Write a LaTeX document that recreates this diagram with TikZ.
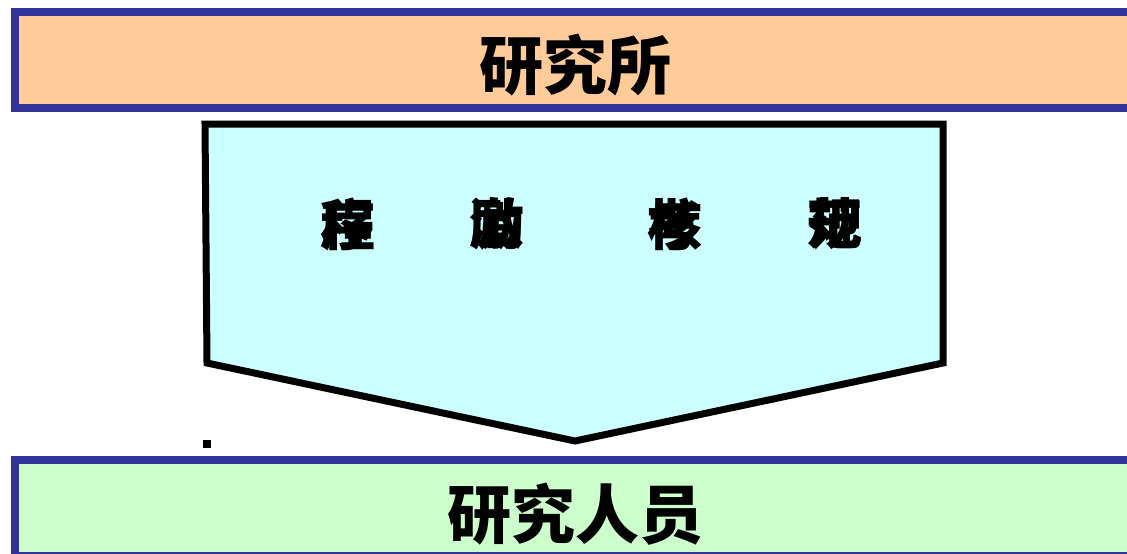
\documentclass[tikz,border=0pt]{standalone}
\usepackage{fontspec}
\newfontfamily\cjk{Noto Sans CJK SC}
\usetikzlibrary{positioning}
\definecolor{peach}{HTML}{FFCC99}
\definecolor{frameblue}{HTML}{333399}
\definecolor{lightcyan}{HTML}{CCFFFF}
\definecolor{lightgreen}{HTML}{CCFFCC}
\newcommand{\overlap}[2]{\rlap{#1}#2}

\begin{document}
\begin{tikzpicture}[x=1pt, y=-1pt,
    band/.style={draw=frameblue, line width=8pt, inner sep=0pt,
                 minimum width=1120pt, minimum height=96pt},
    title/.style={font=\cjk\bfseries\fontsize{64}{64}\selectfont, inner sep=0pt},
    word/.style={font=\cjk\bfseries\fontsize{55}{55}\selectfont, inner sep=0pt}]
    \useasboundingbox (0,0) rectangle (1127,554);

    \node[band, fill=peach] (inst) at (575,60) {};
    \node[band, fill=lightgreen] (staff) at (575,508) {};
    \node[title] (instname) at ([yshift=-5pt]inst.center) {研究所};
    \node[title] (staffname) at ([yshift=-6pt]staff.center) {研究人员};

    \coordinate (tl) at (205,124);
    \coordinate (tr) at (943,124);
    \coordinate (br) at (943,363);
    \coordinate (tip) at (575,441);
    \coordinate (bl) at (207,363);
    \draw[line width=7pt, miter limit=10, fill=lightcyan] (tl) -- (tr) -- (br) -- (tip) -- (bl) -- cycle;

    \node[word] (w1) at (348,224) {\overlap{程}{序}};
    \node[word] (w2) at (497,224) {\overlap{激}{励}};
    \node[word] (w3) at (675,224) {\overlap{考}{核}};
    \node[word] (w4) at (835,224) {\overlap{规}{范}};

    \fill (203,440) rectangle (211,448);
\end{tikzpicture}
\end{document}
